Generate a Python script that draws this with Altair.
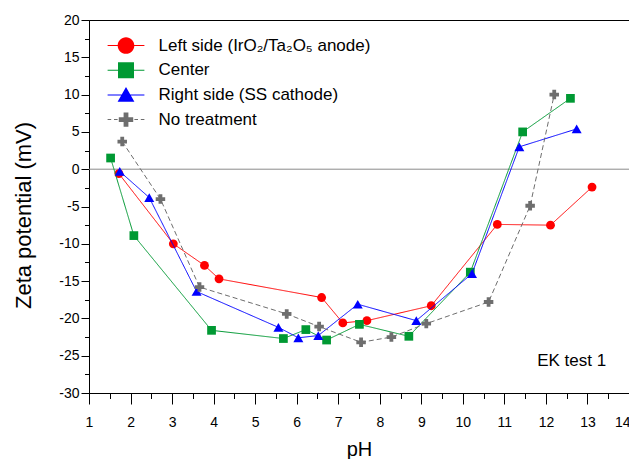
import altair as alt
import pandas as pd

# ---- data ----
series_names = ["Left side (IrO₂/Ta₂O₅ anode)", "Center", "Right side (SS cathode)", "No treatment"]
colors = ["#ff0000", "#009933", "#0000ff", "#6e6e6e"]
shapes = ["circle", "square", "triangle-up", "cross"]
sizes = [78, 76, 100, 90]
dashes = [[1, 0], [1, 0], [1, 0], [5, 3]]

red_ph = [1.72, 3.03, 3.78, 4.13, 6.60, 7.11, 7.69, 9.24, 10.83, 12.11, 13.11]
red_z = [-0.6, -10.0, -12.9, -14.7, -17.2, -20.6, -20.3, -18.3, -7.4, -7.5, -2.4]

green_ph = [1.52, 2.08, 3.95, 5.68, 6.22, 6.72, 7.51, 8.70, 10.18, 11.44, 12.59]
green_z = [1.5, -8.9, -21.6, -22.7, -21.5, -22.9, -20.8, -22.4, -13.8, 5.0, 9.5]

blue_ph = [1.74, 2.45, 3.59, 5.56, 6.04, 6.52, 7.47, 8.88, 10.22, 11.36, 12.74]
blue_z = [-0.3, -3.8, -16.4, -21.2, -22.6, -22.3, -18.1, -20.3, -14.0, 3.0, 5.4]

gray_ph = [1.80, 2.72, 3.66, 5.76, 6.54, 7.55, 8.28, 9.12, 10.62, 11.62, 12.20]
gray_z = [3.7, -4.0, -15.8, -19.4, -21.1, -23.2, -22.5, -20.7, -17.8, -4.9, 10.0]

x_ticks = [1, 1.5, 2, 2.5, 3, 3.5, 4, 4.5, 5, 5.5, 6, 6.5, 7, 7.5, 8, 8.5, 9, 9.5,
           10, 10.5, 11, 11.5, 12, 12.5, 13, 13.5, 14]
y_ticks = [-30, -27.5, -25, -22.5, -20, -17.5, -15, -12.5, -10, -7.5, -5, -2.5, 0,
           2.5, 5, 7.5, 10, 12.5, 15, 17.5, 20]

annot_text = ["EK test 1"]
annot_ph = [13.45]
annot_z = [-25.7]

FONT = "Liberation Sans"

xscale = alt.Scale(domain=[1, 14], nice=False, zero=False)
yscale = alt.Scale(domain=[-30, 20], nice=False, zero=False)

xaxis = alt.Axis(
    values=x_ticks, grid=False,
    labelExpr="datum.value % 1 === 0 ? '' + datum.value : ''",
    tickSize={"condition": {"test": "datum.value % 1 === 0", "value": 11}, "value": 5.5},
    labelAlign={"condition": {"test": "datum.value === 14", "value": "right"}, "value": "center"},
    labelOffset={"condition": {"test": "datum.value === 14", "value": 1}, "value": 0},
    labelPadding=11, labelFontSize=14, labelOverlap=False, labelFlush=False,
    title="pH", titleFontSize=20, titleFontWeight="normal",
    titleY=62, titleBaseline="alphabetic", titleX=270, titleAlign="center",
    domainColor="#000", tickColor="#000", labelColor="#000", titleColor="#000",
)
yaxis = alt.Axis(
    values=y_ticks, grid=False,
    labelExpr="datum.value % 5 === 0 ? '' + datum.value : ''",
    tickSize={"condition": {"test": "datum.value % 5 === 0", "value": 8}, "value": 4.5},
    labelPadding=2, labelFontSize=14, labelOverlap=False, labelFlush=False,
    title="Zeta potential (mV)", titleFontSize=22, titleFontWeight="normal",
    titleX=-66, titleY=195, titleAlign="center", titleBaseline="middle",
    domainColor="#000", tickColor="#000", labelColor="#000", titleColor="#000",
)

X = alt.X("pH:Q", scale=xscale, axis=xaxis)
Y = alt.Y("zeta:Q", scale=yscale, axis=yaxis)

layers = []

zero_line = alt.Chart(pd.DataFrame({"zeta": [0]})).mark_rule(
    color="#8a8a8a", strokeWidth=1
).encode(y=Y)
layers.append(zero_line)

all_rows = []
for name, xs, ys, col, shp, sz, dsh in zip(
        series_names, [red_ph, green_ph, blue_ph, gray_ph], [red_z, green_z, blue_z, gray_z],
        colors, shapes, sizes, dashes):
    d = pd.DataFrame({"series": name, "pH": xs, "zeta": ys, "order": list(range(len(xs)))})
    all_rows.append(d)
    layers.append(alt.Chart(d).mark_line(strokeWidth=1, color=col, strokeDash=dsh).encode(
        x=X, y=Y, order="order:Q"))
    layers.append(alt.Chart(d).mark_point(filled=True, opacity=1, shape=shp, size=sz, color=col,
                                          strokeWidth=0).encode(x=X, y=Y))
df = pd.concat(all_rows, ignore_index=True)

# legend symbols: marker with a (thin filled) line through it
LINE = "M-2.3,-0.065L2.3,-0.065L2.3,0.065L-2.3,0.065Z"
DASH = ("M-2.3,-0.065L-1.85,-0.065L-1.85,0.065L-2.3,0.065Z"
        "M-1.5,-0.065L-1.05,-0.065L-1.05,0.065L-1.5,0.065Z"
        "M1.05,-0.065L1.5,-0.065L1.5,0.065L1.05,0.065Z"
        "M1.85,-0.065L2.3,-0.065L2.3,0.065L1.85,0.065Z")
legend_paths = [
    LINE + "M1.04,0A1.04,1.04,0,1,1,-1.04,0A1.04,1.04,0,1,1,1.04,0Z",
    LINE + "M-1,-1L1,-1L1,1L-1,1Z",
    LINE + "M0,-1L1.05,0.85L-1.05,0.85Z",
    DASH + "M-0.3,-0.9L0.3,-0.9L0.3,-0.3L0.9,-0.3L0.9,0.3L0.3,0.3L0.3,0.9L-0.3,0.9"
           "L-0.3,0.3L-0.9,0.3L-0.9,-0.3L-0.3,-0.3Z",
]
leg = alt.Legend(
    orient="none", legendX=28.5, legendY=17, title=None,
    labelFontSize=17, labelFont=FONT, labelColor="#000", labelLimit=400,
    symbolSize=256, symbolStrokeWidth=0, labelOffset=24, rowPadding=6.7, padding=0,
)
legend_layer = alt.Chart(df).transform_filter("false").mark_point(
    filled=True, opacity=1, size=256, strokeWidth=0
).encode(
    x=X, y=Y,
    color=alt.Color("series:N", scale=alt.Scale(domain=series_names, range=colors), legend=leg),
    shape=alt.Shape("series:N", scale=alt.Scale(domain=series_names, range=legend_paths), legend=leg),
)
layers.append(legend_layer)

annot = alt.Chart(pd.DataFrame({"pH": annot_ph, "zeta": annot_z, "label": annot_text})).mark_text(
    align="right", baseline="middle", fontSize=17, font=FONT, color="#000"
).encode(x=X, y=Y, text="label:N")
layers.append(annot)

chart = alt.layer(*layers).properties(
    width=540, height=373,
    autosize=alt.AutoSizeParams(type="none"),
    padding={"left": 81, "top": 12, "right": 0, "bottom": 66},
).configure(font=FONT).configure_view(stroke="#000", strokeWidth=1)

chart.save("out.html", embed_options={"renderer": "svg", "actions": False})
